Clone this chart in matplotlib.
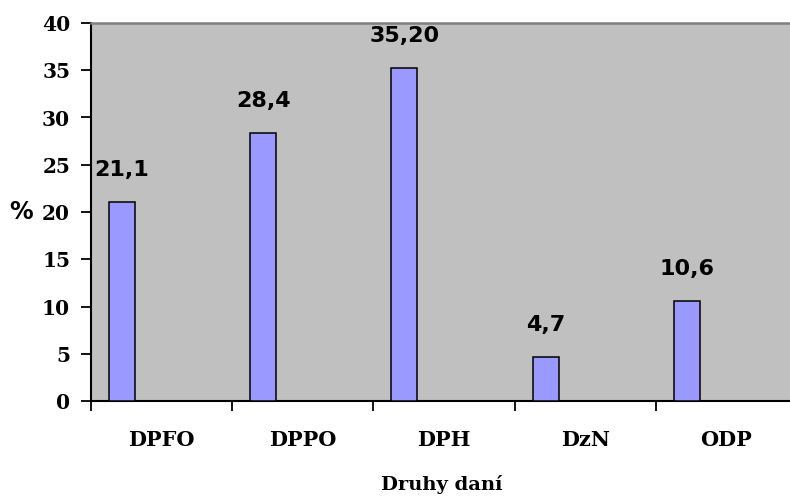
import matplotlib
matplotlib.use("Agg")
import matplotlib.pyplot as plt
import numpy as np

categories = ["DPFO", "DPPO", "DPH", "DzN", "ODP"]
values = [21.1, 28.4, 35.2, 4.7, 10.6]
decimals = [1, 1, 2, 1, 1]
y_ticks = [0, 5, 10, 15, 20, 25, 30, 35, 40]

fig = plt.figure(figsize=(7.9, 4.98), dpi=100)
ax = fig.add_axes([91 / 790, 1 - 401 / 498, 706 / 790, 378 / 498])
ax.set_facecolor("#C0C0C0")

x = np.arange(len(categories))
bars = ax.bar(x + 0.22, values, width=0.184, color="#9999FF",
              edgecolor="black", linewidth=1.1, zorder=3)

# popisky hodnot nad sloupci
for b, v, d in zip(bars, values, decimals):
    txt = f"{v:.{d}f}".replace(".", ",")
    ax.annotate(txt, (b.get_x() + b.get_width() / 2, v),
                xytext=(0, 23), textcoords="offset points",
                ha="center", va="center", fontsize=16,
                fontweight="bold", family="DejaVu Sans", color="black")

ax.set_xlim(0, len(categories))
ax.set_ylim(0, 40)
ax.set_yticks(y_ticks)
ax.set_yticklabels([str(t) for t in y_ticks], family="DejaVu Serif",
                   fontweight="bold", fontsize=14.5)

ax.set_xticks(np.arange(len(categories)))
ax.set_xticklabels([])
ax.set_xticks(x + 0.5, minor=True)
ax.set_xticklabels(categories, minor=True, family="DejaVu Serif",
                   fontweight="bold", fontsize=15)
ax.tick_params(axis="x", which="minor", length=0, pad=21)
ax.tick_params(axis="x", which="major", length=7, width=1.3, direction="out")
ax.tick_params(axis="y", length=7, width=1.3, pad=8)

for side in ["left", "bottom"]:
    ax.spines[side].set_color("black")
    ax.spines[side].set_linewidth(1.5)
ax.spines["top"].set_color("#808080")
ax.spines["top"].set_linewidth(1.8)
ax.spines["right"].set_visible(False)

fig.text(21 / 790, 1 - 212 / 498, "%", ha="center", va="center",
         fontsize=17, fontweight="bold", family="DejaVu Sans")
fig.text(442 / 790, 1 - 484 / 498, "Druhy daní", ha="center", va="center",
         fontsize=14, fontweight="bold", family="DejaVu Serif")

fig.savefig("out.png", dpi=100)
